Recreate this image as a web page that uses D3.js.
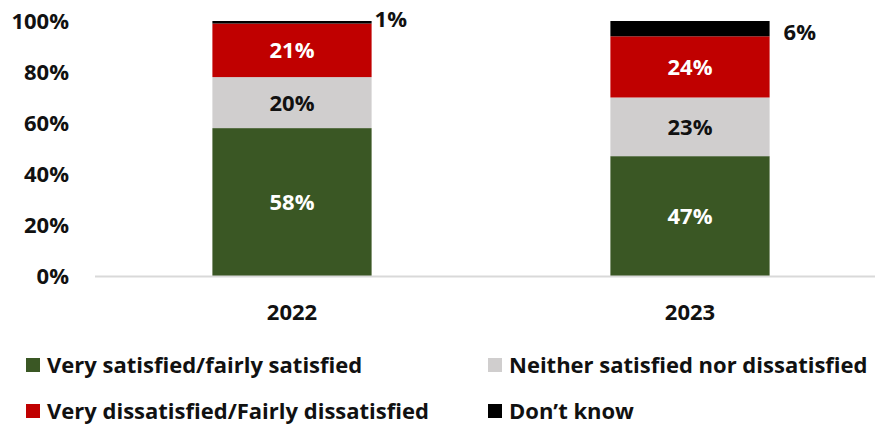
<!DOCTYPE html>
<html><head><meta charset="utf-8">
<script src="https://cdn.jsdelivr.net/npm/d3@7"></script>
<style>body{margin:0;background:#fff}svg{display:block}text{font-family:"Open Sans",sans-serif;font-weight:bold}</style>
</head><body><svg id="c" width="875" height="424"></svg>
<script>
const years = ["2022", "2023"];
const seriesNames = ["Very satisfied/fairly satisfied", "Neither satisfied nor dissatisfied", "Very dissatisfied/Fairly dissatisfied", "Don\u2019t know"];
const satisfied = [58, 47];
const neither = [20, 23];
const dissatisfied = [21, 24];
const dontKnow = [1, 6];
const yTicks = [0, 20, 40, 60, 80, 100];
const colors = ["#3a5724", "#d0cece", "#c00000", "#000000"];
const labelColors = ["#fff", "#111", "#fff", "#111"];
const FONT = "'Open Sans',sans-serif";
const FS = 22;

const svg = d3.select("#c");
const x = d3.scaleBand().domain(years).range([93, 889]).paddingInner(0.6).paddingOuter(0.3);
const y = d3.scaleLinear().domain([0, 100]).range([276, 21]);

const rows = years.map((yr, i) => ({year: yr, s0: satisfied[i], s1: neither[i], s2: dissatisfied[i], s3: dontKnow[i]}));
const stack = d3.stack().keys(["s0", "s1", "s2", "s3"])(rows);

// y axis labels
const yAxis = d3.axisLeft(y).tickValues(yTicks).tickFormat(d => d + "%").tickSize(0).tickPadding(0);
const ga = svg.append("g").attr("transform", "translate(69,0)").call(yAxis);
ga.select(".domain").remove();
ga.selectAll("text").attr("font-size", FS).attr("fill", "#111").attr("dy", "0.35em").style("font-family", FONT).style("font-weight", "bold");

// bars
stack.forEach((layer, li) => {
  svg.append("g").selectAll("rect").data(layer).join("rect")
    .attr("x", d => x(d.data.year))
    .attr("width", x.bandwidth())
    .attr("y", d => y(d[1]))
    .attr("height", d => y(d[0]) - y(d[1]))
    .attr("fill", colors[li]);
});

// baseline
svg.append("line").attr("x1", 95).attr("x2", 875).attr("y1", y(0) + 0.5).attr("y2", y(0) + 0.5)
  .attr("stroke", "#d9d9d9").attr("stroke-width", 2);

// labels
stack.forEach((layer, li) => {
  layer.forEach(d => {
    const v = d[1] - d[0];
    const g = svg.append("text").attr("font-size", FS).text(v + "%");
    if (li === 3) {
      const right = x(d.data.year) + x.bandwidth();
      g.attr("x", right + (v < 3 ? 3 : 14)).attr("y", y(d[1]) + (v < 3 ? 6 : 19)).attr("fill", "#111");
    } else {
      g.attr("x", x(d.data.year) + x.bandwidth() / 2).attr("y", (y(d[0]) + y(d[1])) / 2 + 8)
        .attr("text-anchor", "middle").attr("fill", labelColors[li]);
    }
  });
});

// x axis labels
const xAxis = d3.axisBottom(x).tickSize(0).tickPadding(0);
const gx = svg.append("g").attr("transform", "translate(0,320)").call(xAxis);
gx.select(".domain").remove();
gx.selectAll("text").attr("font-size", FS).attr("fill", "#111").attr("dy", 0).style("font-family", FONT).style("font-weight", "bold");

// legend
const legPos = [[26, 365], [488, 365], [26, 411], [488, 411]];
seriesNames.forEach((n, i) => {
  const [lx, ly] = legPos[i];
  svg.append("rect").attr("x", lx).attr("y", ly - 7).attr("width", 14).attr("height", 14).attr("fill", colors[i]);
  svg.append("text").attr("x", lx + 21).attr("y", ly + 8).attr("font-size", FS).attr("fill", "#111").text(n);
});
</script></body></html>
